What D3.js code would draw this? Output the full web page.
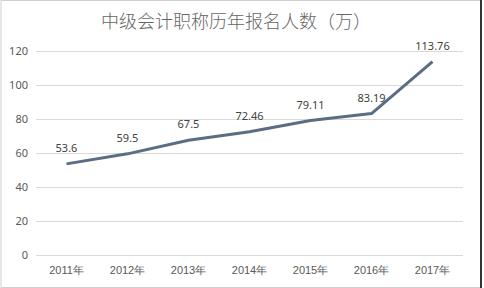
<!DOCTYPE html>
<html>
<head>
<meta charset="utf-8">
<script src="https://cdn.jsdelivr.net/npm/d3@7/dist/d3.min.js"></script>
<style>
  body { margin: 0; background: #fff; }
  svg { display: block; font-family: "Noto Sans CJK SC", "Microsoft YaHei", sans-serif; }
</style>
</head>
<body>
<svg id="chart"></svg>
<script>
const years = ["2011年", "2012年", "2013年", "2014年", "2015年", "2016年", "2017年"];
const counts = [53.6, 59.5, 67.5, 72.46, 79.11, 83.19, 113.76];
const labels = ["53.6", "59.5", "67.5", "72.46", "79.11", "83.19", "113.76"];
const yTicks = [0, 20, 40, 60, 80, 100, 120];
const title = "中级会计职称历年报名人数（万）";

const width = 484, height = 288;
const margin = { top: 51, right: 21, bottom: 32, left: 36 };

const svg = d3.select("#chart").attr("width", width).attr("height", height);

// frame
svg.append("rect")
  .attr("x", 1).attr("y", 0.5)
  .attr("width", width - 4).attr("height", height - 1)
  .attr("fill", "#fff")
  .attr("stroke", "#d0d0d0");
svg.append("line")
  .attr("x1", 481).attr("x2", 481).attr("y1", 0).attr("y2", height)
  .attr("stroke", "#333").attr("stroke-width", 2);

svg.append("text")
  .attr("x", 236).attr("y", 28)
  .attr("text-anchor", "middle")
  .attr("font-size", 18)
  .attr("font-weight", 300)
  .attr("fill", "#666")
  .text(title);

const g = svg.append("g").attr("transform", `translate(${margin.left},${margin.top})`);
const w = width - margin.left - margin.right;
const h = height - margin.top - margin.bottom - 1;

const x = d3.scaleBand().domain(years).range([0, w]);
const y = d3.scaleLinear().domain([0, 120]).range([h, 0]);

// gridlines
g.selectAll(".grid")
  .data(yTicks)
  .enter()
  .append("line")
    .attr("x1", 0).attr("x2", w)
    .attr("y1", d => Math.round(y(d)) + 0.5).attr("y2", d => Math.round(y(d)) + 0.5)
    .attr("stroke", "#d9d9d9");

// y axis labels
const yAxis = d3.axisLeft(y).tickValues(yTicks).tickSize(0).tickPadding(8);
g.append("g").call(yAxis)
  .call(s => s.select(".domain").remove())
  .selectAll("text")
    .attr("font-size", 11)
    .attr("fill", "#595959")
    .attr("font-family", "Noto Sans, sans-serif");

// x axis labels
const xAxis = d3.axisBottom(x).tickSize(0).tickPadding(11);
g.append("g").attr("transform", `translate(0,${h})`).call(xAxis)
  .call(s => s.select(".domain").remove())
  .selectAll("text")
    .attr("font-size", 11)
    .attr("fill", "#595959");

const pts = years.map((yr, i) => ({ yr, v: counts[i], label: labels[i] }));

const line = d3.line()
  .x(d => x(d.yr) + x.bandwidth() / 2)
  .y(d => y(d.v));

g.append("path")
  .datum(pts)
  .attr("d", line)
  .attr("fill", "none")
  .attr("stroke", "#5b6d83")
  .attr("stroke-width", 3)
  .attr("stroke-linejoin", "round");

g.selectAll(".lbl")
  .data(pts)
  .enter()
  .append("text")
    .attr("x", d => x(d.yr) + x.bandwidth() / 2)
    .attr("y", d => y(d.v) - 12)
    .attr("text-anchor", "middle")
    .attr("font-size", 11)
    .attr("font-family", "Noto Sans, sans-serif")
    .attr("fill", "#404040")
    .text(d => d.label);
</script>
</body>
</html>
